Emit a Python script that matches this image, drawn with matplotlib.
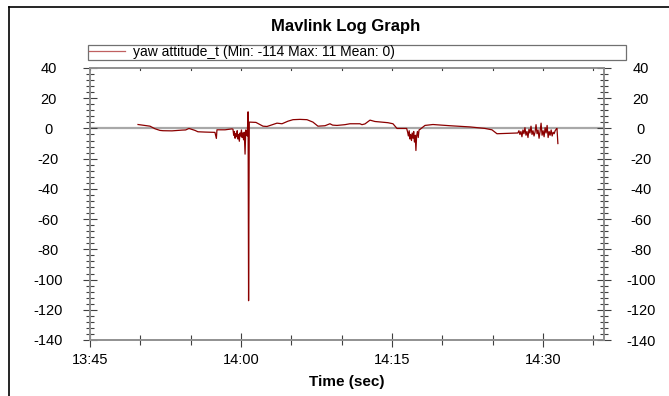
import matplotlib
matplotlib.use("Agg")
import matplotlib.pyplot as plt
from matplotlib.lines import Line2D
from matplotlib.ticker import MultipleLocator, FuncFormatter

plt.rcParams['font.family'] = ['Liberation Sans', 'DejaVu Sans']
plt.rcParams['axes.unicode_minus'] = False

# minutes after 13:45 and yaw values
t_min = [4.77, 5.96, 6.45, 6.95, 7.25, 8.14, 9.14, 9.50, 9.83, 10.43, 10.72, 11.42,
         12.41, 12.55, 12.61, 13.41, 14.10,
         14.20, 14.27, 14.34, 14.41, 14.48, 14.55, 14.62, 14.69, 14.76, 14.83, 14.90,
         14.97, 15.04, 15.11, 15.18, 15.25, 15.32, 15.40, 15.47, 15.55, 15.62,
         15.70, 15.75, 15.82,
         16.48, 17.18, 17.58, 18.07, 18.57, 19.07, 19.66, 20.16, 20.85, 21.55, 22.14,
         22.64, 23.34, 23.83, 24.10, 24.53, 25.32, 25.82, 26.81, 27.01, 27.31, 27.81,
         28.30, 29.59, 30.09, 30.49, 31.45,
         31.55, 31.62, 31.70, 31.78, 31.85, 31.93, 32.00, 32.08, 32.15, 32.22, 32.30,
         32.37, 32.44, 32.52, 32.60, 32.68, 32.80,
         33.27, 34.06, 35.75, 37.74, 39.23, 39.92, 40.42, 42.50,
         42.60, 42.70, 42.80, 42.90, 43.00, 43.10, 43.20, 43.30, 43.40, 43.50, 43.60,
         43.70, 43.80, 43.90, 44.00, 44.10, 44.20, 44.30, 44.40, 44.50, 44.60, 44.70,
         44.80, 44.90, 45.00, 45.10, 45.20, 45.30, 45.40, 45.50, 45.60, 45.70, 45.80,
         45.90, 46.00, 46.10, 46.20, 46.30, 46.38, 46.47]
yaw = [2.6, 1.5, -0.2, -1.3, -1.5, -1.6, -1.1, -1.0, 0.0, -1.3, -2.2, -2.4,
       -2.6, -6.6, -0.9, -0.9, -0.3,
       -0.5, -4.5, -2.0, -6.5, -3.5, -5.5, -1.5, -7.0, -4.0, -8.5, -3.0,
       -5.0, -1.0, -6.0, -3.0, -7.5, -2.5, -17.0, -1.0, -4.0, -5.0,
       11.0, -114.0, 4.2,
       4.0, 1.5, 1.3, 2.4, 3.5, 3.1, 4.8, 5.8, 6.0, 5.8, 4.2,
       1.5, 1.8, 3.1, 2.2, 2.0, 2.5, 3.1, 3.1, 2.5, 3.0, 5.5,
       4.6, 3.8, 3.1, 0.0, 0.0,
       -2.5, -5.0, -1.5, -7.0, -4.0, -8.0, -3.0, -6.5, -2.0, -9.0, -4.5,
       -14.6, -5.0, -2.0, -6.0, -1.0, -0.5,
       2.0, 2.6, 1.8, 1.0, 0.0, -0.9, -3.5, -3.0,
       -1.5, -4.0, -2.0, -5.5, -1.0, -3.5, 0.5, -4.5, -2.0, -6.0, -0.5,
       -3.0, 1.5, -4.0, -1.5, -5.0, -2.5, 2.5, -3.5, -1.0, -6.5, -2.0,
       3.5, -4.5, -1.5, -5.5, 0.5, -3.0, 2.0, -6.0, -2.0, -4.5, -1.0,
       -5.0, -2.5, -3.5, -1.5, -0.5, 0.0, -10.0]

series_label = "yaw attitude_t (Min: -114 Max: 11 Mean: 0)"

W, H = 669, 396
fig = plt.figure(figsize=(W / 100, H / 100), dpi=100)
ax = fig.add_axes([90 / W, 1 - 340 / H, (604 - 90) / W, (340 - 68) / H])
ax2 = ax.twinx()

grey = '#909090'
tick_col = '#404040'
ax.axhline(0, color='#a8a8a8', lw=1.6, zorder=1)
line, = ax.plot(t_min, yaw, color='#8b0000', lw=0.9, zorder=2, label=series_label)

ax.set_xlim(0, 51.05)
for a in (ax, ax2):
    a.set_ylim(-140, 40)
    a.yaxis.set_major_locator(MultipleLocator(20))
    a.yaxis.set_minor_locator(MultipleLocator(4))
    for s in a.spines.values():
        s.set_color(grey)
        s.set_linewidth(1.2)

def hhmm(v, pos):
    m = int(round(v)) + 13 * 60 + 45
    return f"{m // 60}:{m % 60:02d}"

ax.xaxis.set_major_locator(MultipleLocator(15))
ax.xaxis.set_minor_locator(MultipleLocator(5))
ax.xaxis.set_major_formatter(FuncFormatter(hhmm))

# left scale, labels centred in their column
ax.tick_params(axis='y', which='both', direction='inout', left=True, right=False,
               color=tick_col, labelsize=10.5, pad=25)
ax.tick_params(axis='y', which='major', length=10, width=0.8)
ax.tick_params(axis='y', which='minor', length=6, width=0.8)
for lab in ax.get_yticklabels():
    lab.set_horizontalalignment('center')

# right scale
ax2.tick_params(axis='y', which='both', direction='inout', right=True,
                color=tick_col, labelsize=10.5, pad=21.5)
ax2.tick_params(axis='y', which='major', length=10, width=0.8)
ax2.tick_params(axis='y', which='minor', length=6, width=0.8)
for lab in ax2.get_yticklabels():
    lab.set_horizontalalignment('center')

ax.tick_params(axis='x', which='both', direction='inout', top=False, bottom=True,
               color=tick_col, labelsize=10.5, pad=4)
ax.tick_params(axis='x', which='major', length=10, width=0.8)
ax.tick_params(axis='x', which='minor', length=7, width=0.8)

# short inward marks along the top edge
for xm in range(0, 51, 5):
    ax.plot([xm, xm], [40, 38.6], color=tick_col, lw=0.8, clip_on=False, zorder=3)

ax.set_xlabel("Time (sec)", fontsize=11, fontweight='bold', labelpad=6)
fig.text(0.516, 1 - 26 / H, "Mavlink Log Graph", ha='center', va='center',
         fontsize=12, fontweight='bold')

leg = fig.legend(handles=[line], loc='lower left', mode='expand',
                 bbox_to_anchor=(88 / W, 1 - 60 / H, (626 - 88) / W, 16 / H),
                 fancybox=False, shadow=False, fontsize=10, borderpad=0.05,
                 handlelength=2.6, handletextpad=0.6, borderaxespad=0,
                 edgecolor='#707070', framealpha=1)
leg.get_frame().set_linewidth(0.9)
leg.get_lines()[0].set_color('#c06060')

# window frame (left and top edges)
for xs, ys in [((8.5, 8.5), (0, 389)), ((8.5, 669), (389, 389))]:
    fig.add_artist(Line2D([v / W for v in xs], [v / H for v in ys], color='black', lw=1.2))

fig.savefig("out.png", dpi=100)
